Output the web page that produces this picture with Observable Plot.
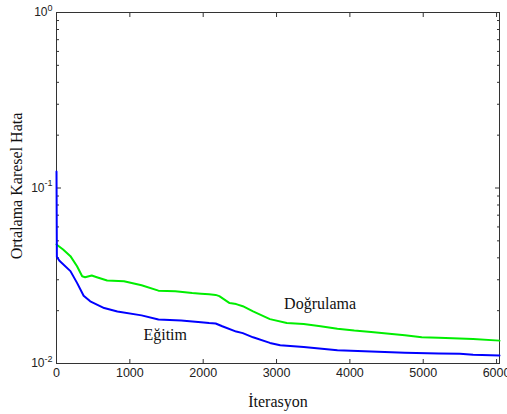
<!DOCTYPE html>
<html><head><meta charset="utf-8">
<script src="https://cdn.jsdelivr.net/npm/d3@7"></script>
<script src="https://cdn.jsdelivr.net/npm/@observablehq/plot@0.6"></script>
<style>html,body{margin:0;padding:0;background:#fff}</style>
</head><body><div id="chart"></div>
<script>
const trainIter = [0, 5, 40, 190, 280, 370, 460, 650, 830, 1160, 1390, 1700, 1970, 2080, 2170, 2260, 2450, 2540, 2680, 2910, 3050, 3370, 3830, 4290, 4750, 5210, 5500, 5680, 6040];
const trainMSE  = [0.124, 0.0405, 0.0385, 0.0336, 0.0288, 0.0243, 0.0226, 0.0207, 0.0198, 0.0188, 0.0178, 0.0176, 0.0172, 0.0170, 0.0169, 0.0163, 0.0152, 0.0149, 0.0141, 0.0131, 0.0127, 0.0124, 0.0119, 0.0117, 0.0115, 0.0114, 0.01135, 0.0112, 0.0111];
const valIter = [0, 90, 190, 280, 350, 390, 480, 550, 690, 920, 1160, 1390, 1620, 1850, 1970, 2080, 2170, 2220, 2360, 2450, 2540, 2680, 2910, 3140, 3370, 3600, 3830, 4060, 4290, 4750, 4980, 5210, 5680, 6040];
const valMSE  = [0.0477, 0.0446, 0.0409, 0.0358, 0.0314, 0.0310, 0.0317, 0.0310, 0.0297, 0.0294, 0.0279, 0.0260, 0.0258, 0.0252, 0.0250, 0.0248, 0.0246, 0.0242, 0.0221, 0.0218, 0.0212, 0.0198, 0.0179, 0.0170, 0.0168, 0.0163, 0.0158, 0.0154, 0.0151, 0.0145, 0.0141, 0.0140, 0.0138, 0.0135];
const xTicks = [0, 1000, 2000, 3000, 4000, 5000, 6000];
const yMajorTicks = [0.01, 0.1, 1];
const yMinorTicks = [0.02, 0.03, 0.04, 0.05, 0.06, 0.07, 0.08, 0.09, 0.2, 0.3, 0.4, 0.5, 0.6, 0.7, 0.8, 0.9];
const seriesLabels = ["Eğitim", "Doğrulama"];
const labelIter = [1482, 3594];
const labelMSE = [0.0145, 0.0218];
const xTitle = "İterasyon";
const yTitle = "Ortalama Karesel Hata";

const train = trainIter.map((x, i) => ({x, y: trainMSE[i]}));
const val = valIter.map((x, i) => ({x, y: valMSE[i]}));
const labels = seriesLabels.map((t, i) => ({t, x: labelIter[i], y: labelMSE[i]}));
const serif = "'Liberation Serif', 'Times New Roman', serif";
const tickColor = "#333";

const chart = Plot.plot({
  width: 507, height: 414,
  marginLeft: 56, marginRight: 8, marginTop: 12, marginBottom: 51,
  style: {fontFamily: "'Liberation Sans', Arial, sans-serif", fontSize: "12px", background: "#fff", color: "#222"},
  x: {domain: [0, 6040], label: null},
  y: {type: "log", domain: [0.01, 1], label: null},
  marks: [
    Plot.frame({stroke: tickColor}),
    Plot.axisX(xTicks, {anchor: "bottom", tickSize: -4, tickFormat: () => "", stroke: tickColor}),
    Plot.axisX(xTicks, {anchor: "top", tickSize: -4, tickFormat: () => "", stroke: tickColor}),
    Plot.axisX(xTicks, {anchor: "bottom", tickSize: 0, tickPadding: 5, fontSize: 12.5, fill: "#222", tickFormat: d => String(d)}),
    Plot.axisY(yMajorTicks, {anchor: "left", tickSize: -5, tickFormat: () => "", stroke: tickColor}),
    Plot.axisY(yMinorTicks, {anchor: "left", tickSize: -3, tickFormat: () => "", stroke: tickColor}),
    Plot.axisY(yMajorTicks, {anchor: "right", tickSize: -5, tickFormat: () => "", stroke: tickColor}),
    Plot.axisY(yMinorTicks, {anchor: "right", tickSize: -3, tickFormat: () => "", stroke: tickColor}),
    Plot.axisY(yMajorTicks, {anchor: "left", tickSize: 0, tickPadding: 4, fill: "#222", tickFormat: d => String(Math.round(Math.log10(d)))}),
    Plot.line(val, {x: "x", y: "y", stroke: "#00ee00", strokeWidth: 2}),
    Plot.line(train, {x: "x", y: "y", stroke: "#0000ff", strokeWidth: 2}),
    Plot.text(labels, {x: "x", y: "y", text: "t", fontFamily: serif, fontSize: 16, fill: "#111", lineAnchor: "middle"}),
    Plot.text([xTitle], {frameAnchor: "bottom", dy: 38, text: d => d, fontFamily: serif, fontSize: 16, fill: "#111", lineAnchor: "middle", textAnchor: "middle"}),
    Plot.text([yTitle], {frameAnchor: "left", dx: -40, dy: -2, rotate: -90, text: d => d, fontFamily: serif, fontSize: 16, fill: "#111", lineAnchor: "middle", textAnchor: "middle"})
  ]
});

// render exponent labels as 10 with superscript
d3.select(chart).selectAll('g[aria-label="y-axis tick label"] text').each(function() {
  const t = d3.select(this);
  const exp = t.text();
  if (exp === "") return;
  t.text(null);
  t.append("tspan").text("10");
  t.append("tspan").attr("dy", "-5.5").attr("font-size", "9px").text(exp);
});

document.getElementById("chart").appendChild(chart);
</script>
</body></html>
